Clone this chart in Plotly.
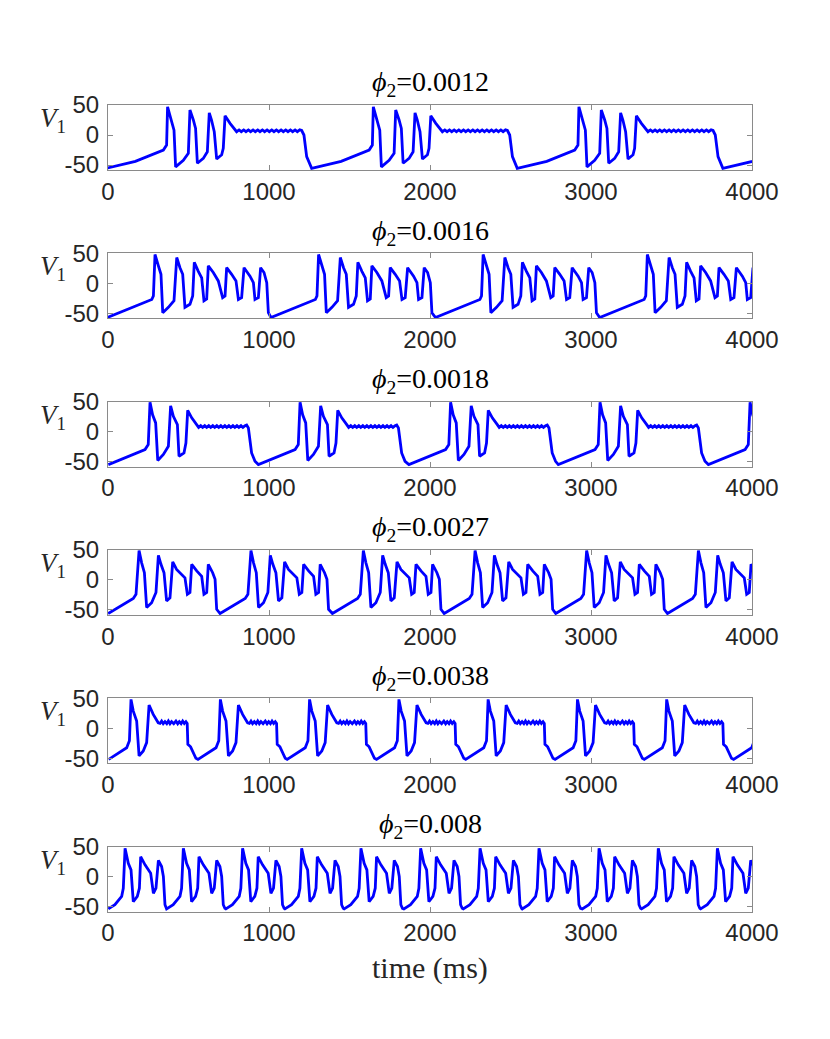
import plotly.graph_objects as go
from plotly.subplots import make_subplots

W, H = 830, 1039

phi2_labels = ["0.0012", "0.0016", "0.0018", "0.0027", "0.0038", "0.008"]
x_ticks = [0, 1000, 2000, 3000, 4000]
y_ticks = [-50, 0, 50]
y_ticktext = ["-50", "0", "50"]

# time of the first spike of every burst (ms)
burst_starts_1 = [370, 1648, 2925, 4202]
burst_starts_2 = [292, 1308, 2330, 3350]
burst_starts_3 = [261, 1193, 2128, 3056, 3988]
burst_starts_4 = [193, 888, 1586, 2280, 2973, 3667]
burst_starts_5 = [143, 698, 1252, 1807, 2361, 2916, 3470, 4025]
burst_starts_6 = [106, 468, 836, 1203, 1571, 1942, 2311, 2677, 3050, 3418, 3785]

# burst shape: time relative to the first spike (ms) and V1 (mV)
shape_t_1 = [-383, -200, -26, -6, 0, 15, 40, 50, 98, 129, 139, 160, 174, 185, 222,
             247, 259, 273, 290, 305, 336, 346, 357, 388, 429,
             444, 458, 473, 487, 502, 516, 531, 545, 560, 574, 589, 603, 618, 632,
             647, 661, 676, 690, 705, 719, 734, 748, 763, 777, 792, 806, 821,
             833, 847, 864]
shape_v_1 = [-55.5, -44, -25, -16.7, 47, 30.5, 8, -53, -42, -30.5, 41.7, 25, 11, -47, -39,
             -28, 37, 25, 5.5, -40, -33, -22, 32, 19.5, 5.5,
             8.5, 5.5, 8.5, 5.5, 8.5, 5.5, 8.5, 5.5, 8.5, 5.5, 8.5, 5.5, 8.5, 5.5,
             8.5, 5.5, 8.5, 5.5, 8.5, 5.5, 8.5, 5.5, 8.5, 5.5, 8.5, 5.5, 8.5,
             7.5, 0, -36]

shape_t_2 = [-296, -20, -10, 0, 21, 37, 48, 83, 118, 135, 155, 172, 186, 217, 234,
             244, 269, 290, 304, 321, 331, 362, 393, 420, 435, 445, 476, 503, 518,
             538, 553, 590, 611, 621, 642, 656, 677, 694, 704]
shape_v_2 = [-57, -27, -21, 48, 29, 15, -49, -40, -29, 43, 26, 15, -40, -35, -21,
             35, 20, 9, -29, -26, 29, 18, 4, -24, -21, 26, 15, 4, -27,
             -24, 26, 12, 1, -27, -24, 26, 18, 1, -49]

shape_t_3 = [-259, -31, -11, 0, 16, 35, 48, 83, 114, 128, 145, 170, 180, 211, 223,
             234, 259, 290,
             302, 315, 327, 340, 352, 365, 377, 390, 402, 415, 427, 440,
             452, 465, 477, 490, 502, 515, 527, 540, 552, 565, 577, 590,
             600, 611, 631, 652]
shape_v_3 = [-55, -30, -21.7, 49, 28, 14.5, -48, -38, -24.5, 43, 25.5, 11.7, -41, -35.5, -19,
             35.5, 23, 11.7,
             7, 10, 7, 10, 7, 10, 7, 10, 7, 10, 7, 10,
             7, 10, 7, 10, 7, 10, 7, 10, 7, 10, 7, 10,
             11, 6, -35.5, -49.5]

shape_t_4 = [-192, -36, -19, 0, 16, 33, 47, 78, 105, 120, 136, 155, 171, 192, 209,
             233, 285, 300, 316, 327, 358, 389, 403, 420, 430, 457, 472, 482]
shape_v_4 = [-56, -31, -24, 49, 28.5, 12, -46, -38, -21, 41, 26, 12, -35, -30, 30,
             17.5, 3.5, -24, -21, 26, 15, 6, -24, -21, 26, 12, 1, -49]

shape_t_5 = [-139, -27, -10, 0, 14, 35, 50, 76, 97, 112, 138, 169, 180, 190, 200,
             211, 222, 232, 242, 252, 265, 279, 290, 300, 311, 321, 331, 341, 349,
             353, 370, 403]
shape_v_5 = [-52, -32.5, -21, 48, 28.5, 12, -46, -38, -24, 38.7, 23, 9, 8, 12, 7.5,
             11, 7.5, 12, 7.5, 11, 7.5, 12, 7.5, 11, 7.5, 12, 8, 11, 8,
             -27, -31, -50]

shape_t_6 = [-104, -63, -21, -11, 0, 20, 37, 51, 76, 89, 97, 124, 159, 176, 192,
             207, 227, 238, 248, 258]
shape_v_6 = [-54, -47, -33, -19.5, 47, 22, 11, -42, -33, -19.5, 33, 19.5, 5.5, -28, -19.5,
             26.7, 16.7, 0, -47, -53]

panels = [
    (burst_starts_1, shape_t_1, shape_v_1),
    (burst_starts_2, shape_t_2, shape_v_2),
    (burst_starts_3, shape_t_3, shape_v_3),
    (burst_starts_4, shape_t_4, shape_v_4),
    (burst_starts_5, shape_t_5, shape_v_5),
    (burst_starts_6, shape_t_6, shape_v_6),
]


def build_trace(starts, shape_t, shape_v):
    t, v = [], []
    for s in starts:
        t += [s + dt for dt in shape_t]
        v += list(shape_v)
    return t, v


fig = make_subplots(rows=6, cols=1)

# pixel layout of the axes boxes (the page body adds an 8px margin)
off = 8
left, right = 108 - off, 752 - off
tops = [105 - off + 148.3 * i for i in range(6)]
box_h = 65

axis_style = dict(showline=True, linecolor="#8a8a8a", linewidth=1, mirror="ticks",
                  ticks="inside", ticklen=5, tickcolor="#8a8a8a",
                  showgrid=False, zeroline=False, automargin=False,
                  tickfont=dict(family="Liberation Sans", size=24, color="#262626"))

for i, (starts, st, sv) in enumerate(panels):
    t, v = build_trace(starts, st, sv)
    fig.add_trace(go.Scatter(x=t, y=v, mode="lines",
                             line=dict(color="#0000ff", width=2.8),
                             showlegend=False), row=i + 1, col=1)
    top = tops[i]
    ydom = [1 - (top + box_h) / H, 1 - top / H]
    fig.update_xaxes(axis_style, range=[0, 4000], tickvals=x_ticks,
                     ticklabelstandoff=0, domain=[left / W, right / W],
                     row=i + 1, col=1)
    fig.update_yaxes(axis_style, range=[-58.3, 50], tickvals=y_ticks,
                     ticktext=y_ticktext, ticklabelstandoff=3, domain=ydom,
                     row=i + 1, col=1)

    fig.add_annotation(text="<i>ϕ</i><sub>2</sub>=" + phi2_labels[i],
                       xref="paper", yref="paper",
                       x=(left + right) / 2 / W, y=1 - (top - 21) / H,
                       xanchor="center", yanchor="middle", showarrow=False,
                       font=dict(family="Liberation Serif", size=28, color="#000000"))
    fig.add_annotation(text="<i>V</i><sub>1</sub>",
                       xref="paper", yref="paper",
                       x=(68 - off) / W, y=1 - (top + 15) / H,
                       xanchor="right", yanchor="middle", showarrow=False,
                       font=dict(family="Liberation Serif", size=27, color="#262626"))

fig.add_annotation(text="time (ms)", xref="paper", yref="paper",
                   x=(left + right) / 2 / W, y=1 - (968 - off) / H,
                   xanchor="center", yanchor="middle", showarrow=False,
                   font=dict(family="Liberation Serif", size=30, color="#262626"))

fig.update_layout(width=W, height=H, margin=dict(l=0, r=0, t=0, b=0),
                  paper_bgcolor="white", plot_bgcolor="white")

fig.write_html("out.html")
